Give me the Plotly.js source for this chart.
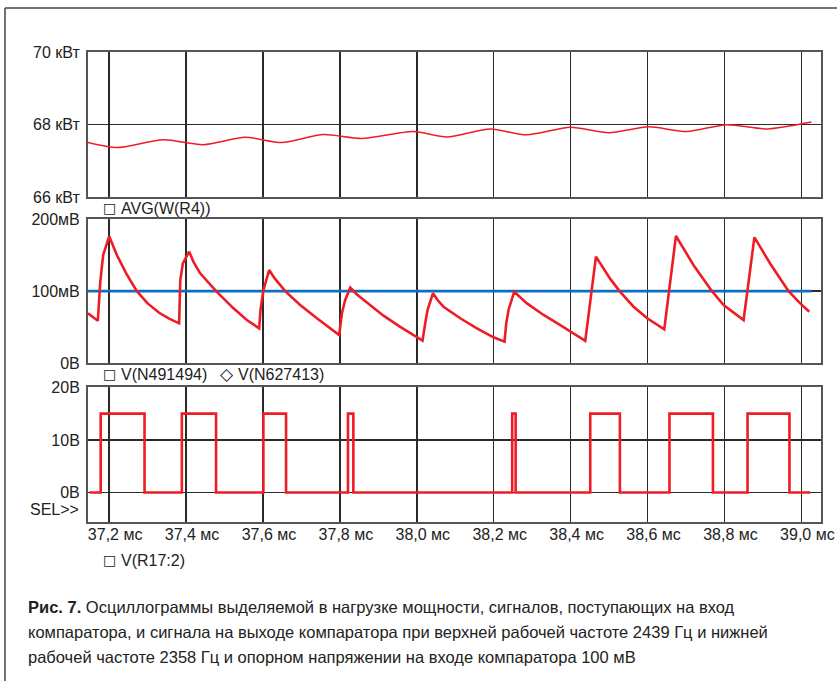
<!DOCTYPE html>
<html>
<head>
<meta charset="utf-8">
<script src="https://cdn.plot.ly/plotly-3.0.1.min.js"></script>
<style>html,body{margin:0;padding:0;background:#fff;}#chart{width:837px;height:681px;}</style>
</head>
<body>
<div id="chart"></div>
<script>
// ---- data ----
// Top panel: AVG(W(R4)), kW
const powerT = [37.145, 37.220, 37.341, 37.445, 37.554, 37.649, 37.757, 37.857, 37.991, 38.078, 38.191, 38.286, 38.399, 38.499, 38.603, 38.702, 38.806, 38.911, 39.026];
const powerKW = [67.51, 67.37, 67.585, 67.45, 67.65, 67.51, 67.73, 67.62, 67.81, 67.66, 67.88, 67.72, 67.93, 67.78, 67.94, 67.81, 68.0, 67.88, 68.07];

// Middle panel: V(N491494), mV
const sawT = [37.145, 37.1706, 37.1766, 37.1844, 37.200,
  37.220, 37.245, 37.272, 37.300, 37.330, 37.356, 37.382,
  37.3849, 37.3917, 37.408,
  37.420, 37.4367, 37.4783, 37.5233, 37.558, 37.5901,
  37.5935, 37.6013, 37.6161,
  37.630, 37.6577, 37.6967, 37.7402, 37.7982,
  37.8052, 37.8138, 37.8268,
  37.845, 37.8702, 37.9134, 37.9568, 38.0148,
  38.0218, 38.0278, 38.0419,
  38.055, 38.0694, 38.1129, 38.1563, 38.1995, 38.2281,
  38.2325, 38.2385, 38.2533,
  38.2864, 38.3297, 38.373, 38.4164, 38.438,
  38.4658,
  38.503, 38.5272, 38.5636, 38.600, 38.6434,
  38.6738,
  38.695, 38.7197, 38.7675, 38.7977, 38.8497,
  38.8778,
  38.9191, 38.9667, 38.995, 39.0205];
const sawMV = [69.3, 59, 111, 150, 176,
  150, 124, 100, 83, 70, 62, 55.4,
  115, 138.6, 154.7,
  140, 124.7, 100, 76.2, 60, 48.5,
  73.9, 101.6, 129.3,
  118, 100, 80.8, 62.4, 39.2,
  69.3, 87.7, 104.8,
  95, 84, 66, 50.5, 31.3,
  55.4, 73.9, 97,
  87, 78.4, 62.4, 48.5, 36, 30,
  55.4, 73.9, 99.2,
  83, 67, 53, 38, 31,
  147.8,
  117, 100, 78.4, 62, 47.1,
  176.4,
  157, 136, 100, 80.8, 60,
  174.6,
  138, 100, 84, 71.5];

// Middle panel: V(N627413), reference 100 mV
const refT = [37.145, 39.026];
const refMV = [100, 100];

// Bottom panel: V(R17:2), V (step)
const compT = [37.149, 37.178, 37.292, 37.389, 37.478, 37.601, 37.660, 37.821, 37.835, 38.248, 38.257, 38.451, 38.528, 38.657, 38.770, 38.860, 38.969, 39.023];
const compV = [0, 15, 0, 15, 0, 15, 0, 15, 0, 15, 0, 15, 0, 15, 0, 15, 0, 0];

// Tick labels
const xTickVals = [37.2, 37.4, 37.6, 37.8, 38.0, 38.2, 38.4, 38.6, 38.8, 39.0];
const xTickText = ['37,2 мс', '37,4 мс', '37,6 мс', '37,8 мс', '38,0 мс', '38,2 мс', '38,4 мс', '38,6 мс', '38,8 мс', '39,0 мс'];
const y1TickVals = [66, 68, 70];
const y1TickText = ['66 кВт', '68 кВт', '70 кВт'];
const y2TickVals = [0, 100, 200];
const y2TickText = ['0В', '100мВ', '200мВ'];
const y3TickVals = [0, 10, 20];
const y3TickText = ['0В', '10В', '20В'];

const captionLines = [
  '<b>Рис. 7.</b> Осциллограммы выделяемой в нагрузке мощности, сигналов, поступающих на вход',
  'компаратора, и сигнала на выходе компаратора при верхней рабочей частоте 2439 Гц и нижней',
  'рабочей частоте 2358 Гц и опорном напряжении на входе компаратора 100 мВ'
];

// ---- layout helpers ----
const ML = 88, MR = 16, MT = 52, MB = 159, W = 837, H = 681;
const PW = W - ML - MR, PH = H - MT - MB;
const px = x => (x - ML) / PW;
const py = y => (MT + PH - y) / PH;

const RED = '#ee1c25', BLUE = '#0f6fbf';
const GRID = '#2a2a2a', FRAME = '#555555';
const FONT = 'Liberation Sans, Arial, sans-serif';
const XR = [37.145, 39.051];

const traces = [
  {x: powerT, y: powerKW, xaxis: 'x', yaxis: 'y', mode: 'lines', line: {color: RED, width: 1.5, shape: 'spline', smoothing: 0.7}},
  {x: refT, y: refMV, xaxis: 'x2', yaxis: 'y2', mode: 'lines', line: {color: BLUE, width: 2.6}},
  {x: sawT, y: sawMV, xaxis: 'x2', yaxis: 'y2', mode: 'lines', line: {color: RED, width: 2.6}},
  {x: compT, y: compV, xaxis: 'x3', yaxis: 'y3', mode: 'lines', line: {color: RED, width: 2.6, shape: 'hv'}}
];

function xa(anchor, labels) {
  return {
    anchor: anchor, range: XR, tickvals: xTickVals, ticktext: xTickText,
    showticklabels: labels, ticks: '', showgrid: true, gridcolor: GRID, gridwidth: 1.4,
    zeroline: false, showline: true, linecolor: FRAME, linewidth: 2, mirror: true,
    tickfont: {family: FONT, size: 16, color: '#222'}, ticklabelstandoff: -3, ticklabelshift: 6
  };
}
function ya(anchor, dom, range, vals, text) {
  return {
    anchor: anchor, domain: dom, range: range, tickvals: vals, ticktext: text,
    ticks: '', showgrid: true, gridcolor: GRID, gridwidth: 1.4, zeroline: false,
    showline: true, linecolor: FRAME, linewidth: 2, mirror: true,
    tickfont: {family: FONT, size: 16, color: '#222'}, ticklabelstandoff: 3
  };
}

const annotations = [];
function txt(x, y, text, opts) {
  annotations.push(Object.assign({
    xref: 'paper', yref: 'paper', x: px(x), y: py(y), text: text, showarrow: false,
    xanchor: 'left', yanchor: 'middle', font: {family: FONT, size: 16, color: '#222'}
  }, opts || {}));
}
const SYM = {family: 'DejaVu Sans, sans-serif', size: 14, color: '#222'};
const DIA = {family: 'DejaVu Sans, sans-serif', size: 17, color: '#222'};
txt(101, 208, '□', {font: SYM});
txt(119, 208, 'AVG(W(R4))');
txt(101, 374, '□', {font: SYM});
txt(119, 374, 'V(N491494)');
txt(218, 374, '◇', {font: DIA});
txt(236, 374, 'V(N627413)');
txt(101, 560, '□', {font: SYM});
txt(119, 560, 'V(R17:2)');
txt(81, 509, 'SEL&gt;&gt;', {xanchor: 'right'});

const CAPFONT = {family: 'Liberation Sans, Arial, sans-serif', size: 16.5, color: '#222'};
const capY = [607, 632, 657];
captionLines.forEach((s, i) => txt(26, capY[i], s, {font: CAPFONT}));

const shapes = [
  {type: 'line', xref: 'paper', yref: 'paper', x0: px(5), x1: px(837), y0: py(8), y1: py(8), line: {color: '#444', width: 1.5}},
  {type: 'line', xref: 'paper', yref: 'paper', x0: px(5), x1: px(5), y0: py(8), y1: py(681), line: {color: '#444', width: 1.5}}
];

const layout = {
  width: W, height: H,
  margin: {l: ML, r: MR, t: MT, b: MB, pad: 0},
  paper_bgcolor: '#fff', plot_bgcolor: '#fff', showlegend: false,
  xaxis: xa('y', false), xaxis2: xa('y2', false), xaxis3: xa('y3', true),
  yaxis: ya('x', [py(197.3), 1], [66, 70], y1TickVals, y1TickText),
  yaxis2: ya('x2', [py(363.3), py(219)], [0, 200], y2TickVals, y2TickText),
  yaxis3: ya('x3', [0, py(387.3)], [-5.6, 20], y3TickVals, y3TickText),
  annotations: annotations, shapes: shapes
};

Plotly.newPlot('chart', traces, layout, {staticPlot: true, displayModeBar: false});
</script>
</body>
</html>
